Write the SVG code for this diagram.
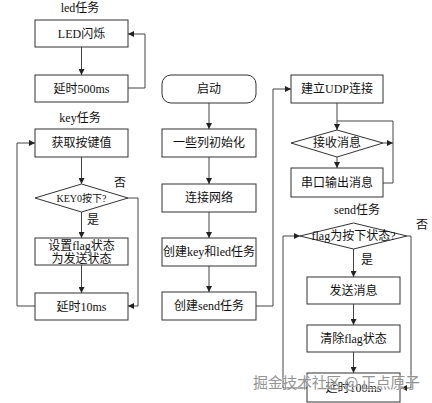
<svg xmlns="http://www.w3.org/2000/svg" width="432" height="403" viewBox="0 0 432 403">
<defs>
<marker id="ah" viewBox="0 0 10 10" refX="10" refY="5" markerWidth="6" markerHeight="6" markerUnits="userSpaceOnUse" orient="auto">
<path d="M0,0 L10,5 L0,10 z" fill="#222"/>
</marker>
<style>
.box{fill:#fff;stroke:#333;stroke-width:1}
.t{font-family:"Liberation Serif","Noto Sans CJK SC",serif;font-size:12px;fill:#111;text-anchor:middle}
.s{font-size:10px}
.c line,.c polyline{fill:none;stroke:#444;stroke-width:1}
.a{marker-end:url(#ah)}
.wm{font-family:"Noto Sans CJK SC",sans-serif;font-size:15px;fill:#8a8a8a;stroke:#fff;stroke-width:0.6;paint-order:stroke;opacity:0.9}
</style>
</defs>
<rect width="432" height="403" fill="#fff"/>

<text class="t" x="80" y="12">led任务</text>
<text class="t" x="80" y="122">key任务</text>
<text class="t" x="357" y="214">send任务</text>

<g class="c" id="connectors">
<line class="a" x1="81.5" y1="47" x2="81.5" y2="75"/>
<polyline class="a" points="128,88 145,88 145,34 128,34"/>
<line class="a" x1="81.5" y1="157" x2="81.5" y2="184"/>
<line class="a" x1="81.5" y1="212" x2="81.5" y2="238"/>
<polyline class="a" points="128,198 138,198 138,306 128,306"/>
<line class="a" x1="81.5" y1="265" x2="81.5" y2="293"/>
<polyline class="a" points="35,306 17,306 17,143 35,143"/>
<line class="a" x1="209" y1="103" x2="209" y2="129"/>
<line class="a" x1="209" y1="157" x2="209" y2="184"/>
<line class="a" x1="209" y1="212" x2="209" y2="238"/>
<line class="a" x1="209" y1="266" x2="209" y2="292"/>
<polyline class="a" points="256,306 273,306 273,89 291,89"/>
<line class="a" x1="337" y1="103" x2="337" y2="130"/>
<line class="a" x1="383" y1="143" x2="393" y2="143"/>
<polyline points="383,183 393,183 393,121 337,121"/>
<line class="a" x1="337" y1="157" x2="337" y2="168"/>
<line class="a" x1="353.5" y1="249" x2="353.5" y2="277"/>
<line class="a" x1="353.5" y1="304" x2="353.5" y2="325"/>
<line class="a" x1="353.5" y1="352" x2="353.5" y2="373"/>
<polyline class="a" points="307,388 283,388 283,236 300,236"/>
<polyline class="a" points="407,236 411,236 411,388 401,388"/>
</g>

<g id="n-led"><rect class="box" x="35" y="20" width="93" height="27"/><text class="t" x="81.5" y="38">LED闪烁</text></g>
<g id="n-d500"><rect class="box" x="35" y="75" width="93" height="27"/><text class="t" x="81.5" y="93">延时500ms</text></g>
<g id="n-getkey"><rect class="box" x="35" y="129" width="93" height="28"/><text class="t" x="81.5" y="147">获取按键值</text></g>
<g id="n-key0"><polygon class="box" points="35,198 81.5,184 128,198 81.5,212"/><text class="t s" x="81.5" y="202">KEY0按下?</text></g>
<text class="t" x="120" y="187">否</text>
<text class="t" x="93" y="224">是</text>
<g id="n-setflag"><rect class="box" x="35" y="238" width="93" height="27"/><text class="t" x="81.5" y="250">设置flag状态</text><text class="t" x="81.5" y="263">为发送状态</text></g>
<g id="n-d10"><rect class="box" x="35" y="293" width="93" height="27"/><text class="t" x="81.5" y="311">延时10ms</text></g>

<g id="n-start"><rect class="box" x="162" y="75" width="94" height="28" rx="9"/><text class="t" x="209" y="93">启动</text></g>
<g id="n-init"><rect class="box" x="162" y="129" width="94" height="28"/><text class="t" x="209" y="147">一些列初始化</text></g>
<g id="n-net"><rect class="box" x="162" y="184" width="94" height="28"/><text class="t" x="209" y="202">连接网络</text></g>
<g id="n-mktask"><rect class="box" x="162" y="238" width="94" height="28"/><text class="t" x="209" y="256">创建key和led任务</text></g>
<g id="n-mksend"><rect class="box" x="162" y="292" width="94" height="28"/><text class="t" x="209" y="310">创建send任务</text></g>

<g id="n-udp"><rect class="box" x="291" y="75" width="92" height="28"/><text class="t" x="337" y="93">建立UDP连接</text></g>
<g id="n-recv"><polygon class="box" points="291,143 337,130 383,143 337,157"/><text class="t" x="337" y="147">接收消息</text></g>
<g id="n-uart"><rect class="box" x="291" y="168" width="92" height="29"/><text class="t" x="337" y="187">串口输出消息</text></g>

<g id="n-flag"><polygon class="box" points="300,236 353.5,223 407,236 353.5,249"/><text class="t" x="353.5" y="240">flag为按下状态?</text></g>
<text class="t" x="422" y="229">否</text>
<text class="t" x="367" y="264">是</text>
<g id="n-send"><rect class="box" x="307" y="277" width="93" height="27"/><text class="t" x="353.5" y="295">发送消息</text></g>
<g id="n-clear"><rect class="box" x="307" y="325" width="93" height="27"/><text class="t" x="353.5" y="343">清除flag状态</text></g>
<g id="n-d100"><rect class="box" x="307" y="373" width="93" height="29"/><text class="t" x="353.5" y="392">延时100ms</text></g>

<text class="wm" x="253" y="388" textLength="167">掘金技术社区 @ 正点原子</text>
</svg>
